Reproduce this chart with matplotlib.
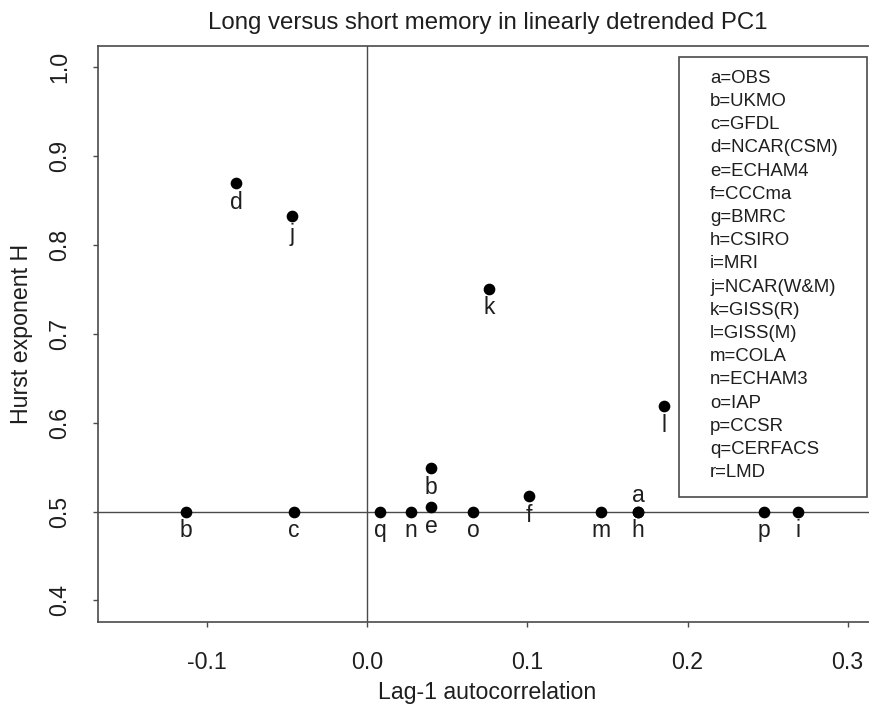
import matplotlib
matplotlib.use("Agg")
import matplotlib.pyplot as plt
from matplotlib.patches import Rectangle

plt.rcParams['font.family'] = ['Liberation Sans', 'DejaVu Sans']

# ---- data ----
point_labels = ['a', 'h', 'b', 'b', 'c', 'd', 'e', 'f', 'i', 'j', 'k', 'l', 'm', 'n', 'o', 'p', 'q']
lag1_autocorr = [0.169, 0.169, -0.113, 0.040, -0.046, -0.082, 0.040, 0.101, 0.269, -0.047,
                 0.076, 0.185, 0.146, 0.027, 0.066, 0.248, 0.008]
hurst_exponent = [0.500, 0.500, 0.500, 0.549, 0.500, 0.870, 0.505, 0.517, 0.500, 0.833,
                  0.751, 0.619, 0.500, 0.500, 0.500, 0.500, 0.500]
label_side = ['above', 'below', 'below', 'below', 'below', 'below', 'below', 'below', 'below',
              'below', 'below', 'below', 'below', 'below', 'below', 'below', 'below']

legend_entries = ['a=OBS', 'b=UKMO', 'c=GFDL', 'd=NCAR(CSM)', 'e=ECHAM4', 'f=CCCma', 'g=BMRC',
                  'h=CSIRO', 'i=MRI', 'j=NCAR(W&M)', 'k=GISS(R)', 'l=GISS(M)', 'm=COLA',
                  'n=ECHAM3', 'o=IAP', 'p=CCSR', 'q=CERFACS', 'r=LMD']

x_ticks = [-0.1, 0.0, 0.1, 0.2, 0.3]
x_tick_labels = ['-0.1', '0.0', '0.1', '0.2', '0.3']
y_ticks = [0.4, 0.5, 0.6, 0.7, 0.8, 0.9, 1.0]
y_tick_labels = ['0.4', '0.5', '0.6', '0.7', '0.8', '0.9', '1.0']

title = 'Long versus short memory in linearly detrended PC1'
x_label = 'Lag-1 autocorrelation'
y_label = 'Hurst exponent H'

# ---- figure ----
W, H = 869, 706
fig = plt.figure(figsize=(W / 100, H / 100), dpi=100)

ax_l, ax_r, ax_t, ax_b = 98.3, 876.5, 46.0, 621.7
ax = fig.add_axes([ax_l / W, 1 - ax_b / H, (ax_r - ax_l) / W, (ax_b - ax_t) / H])

ax.set_xlim(-0.168, 0.318)
ax.set_ylim(0.376, 1.024)

line_col = '#4a4a4a'
text_col = '#1e1e1e'
ax.axhline(0.5, color=line_col, lw=1.0, zorder=1)
ax.axvline(0.0, color=line_col, lw=1.0, zorder=1)

ax.plot(lag1_autocorr, hurst_exponent, linestyle='none', marker='o', ms=7.4,
        color='black', zorder=3)

for lab, xv, yv, side in zip(point_labels, lag1_autocorr, hurst_exponent, label_side):
    dy = 11.5 if side == 'above' else -13.9
    ax.annotate(lab, (xv, yv), xytext=(0, dy), textcoords='offset points',
                ha='center', va='center', fontsize=16.5, color=text_col, zorder=4)

ax.set_xticks(x_ticks)
ax.set_xticklabels(x_tick_labels)
ax.set_yticks(y_ticks)
ax.set_yticklabels(y_tick_labels, rotation=90, va='center')

ax.tick_params(axis='both', direction='out', length=3.6, width=1.0, color=line_col,
               labelsize=16.7, labelcolor=text_col)
ax.tick_params(axis='x', pad=17.5)
ax.tick_params(axis='y', pad=16)

for sp in ax.spines.values():
    sp.set_color(line_col)
    sp.set_linewidth(1.2)

ax.set_xlabel(x_label, fontsize=16.7, color=text_col)
ax.xaxis.set_label_coords(0.5, -(693 - ax_b) / (ax_b - ax_t))
ax.xaxis.label.set_va('center')
ax.set_ylabel(y_label, fontsize=16.7, color=text_col)
ax.yaxis.set_label_coords((22 - ax_l) / (ax_r - ax_l), 0.5)
ax.yaxis.label.set_va('center')

ax.set_title(title, fontsize=17.3, color=text_col, y=1 + (ax_t - 23) / (ax_b - ax_t),
             va='center', pad=0)

# ---- legend box ----
lg_l, lg_t, lg_r, lg_b = 679.3, 56.7, 866.7, 497.3
fig.patches.append(Rectangle((lg_l / W, 1 - lg_b / H), (lg_r - lg_l) / W, (lg_b - lg_t) / H,
                             transform=fig.transFigure, fill=True, facecolor='white',
                             edgecolor=line_col, lw=1.2, zorder=5))
for i, entry in enumerate(legend_entries):
    yy = 78.3 + i * 23.2
    fig.text(710 / W, 1 - yy / H, entry, ha='left', va='center', fontsize=13.4,
             color=text_col, zorder=6)

fig.savefig('out.png', dpi=100)
